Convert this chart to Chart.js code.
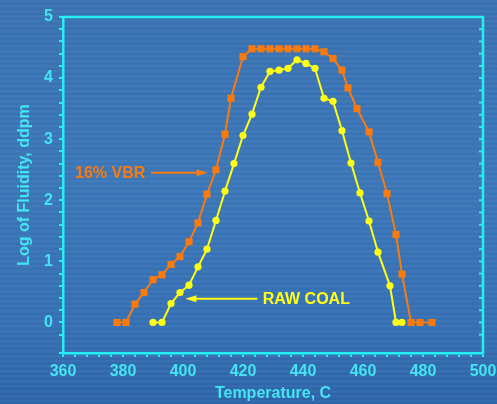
<!DOCTYPE html>
<html lang="en">
<head>
    <meta charset="UTF-8">
    <title>Log of Fluidity vs Temperature</title>
    <script src="https://cdn.jsdelivr.net/npm/chart.js"></script>
    <style>
        html, body {
            margin: 0;
            padding: 0;
        }
        body {
            width: 497px;
            height: 404px;
            overflow: hidden;
            background:
                repeating-linear-gradient(180deg, rgba(255,255,255,0.03) 0px, rgba(255,255,255,0.03) 2px, rgba(0,0,0,0.02) 3px, rgba(0,0,0,0.02) 5px),
                linear-gradient(180deg, #3a72b3 0%, #3b77ba 45%, #3671b5 80%, #2e66aa 100%);
        }
        canvas {
            display: block;
        }
    </style>
</head>
<body>
    <canvas id="fluidityChart" width="497" height="404"></canvas>

    <script>
        // 16% VBR (orange squares)
        const temps16 = [378, 381, 384, 387, 390, 393, 396, 399, 402, 405, 408, 411, 414, 416, 420,
                         423, 426, 429, 432, 435, 438, 441, 444, 447, 450, 453, 455, 458, 462, 465,
                         468, 471, 473, 476, 479, 483];
        const fluid16 = [0, 0, 0.30, 0.49, 0.70, 0.78, 0.95, 1.08, 1.32, 1.63, 2.10, 2.50, 3.08, 3.67, 4.35,
                         4.48, 4.48, 4.48, 4.48, 4.48, 4.48, 4.48, 4.48, 4.43, 4.32, 4.13, 3.84, 3.50, 3.12, 2.62,
                         2.11, 1.44, 0.79, 0, 0, 0];

        // raw coal (yellow circles)
        const tempsRaw = [390, 393, 396, 399, 402, 405, 408, 411, 414, 417, 420, 423, 426, 429, 432,
                          435, 438, 441, 444, 447, 450, 453, 456, 459, 462, 465, 469, 471, 473];
        const fluidRaw = [0, 0, 0.31, 0.49, 0.61, 0.91, 1.20, 1.67, 2.15, 2.60, 3.06, 3.41, 3.85, 4.11, 4.13,
                          4.16, 4.30, 4.24, 4.16, 3.67, 3.62, 3.14, 2.61, 2.12, 1.66, 1.15, 0.60, 0, 0];

        const xLabels = [360, 380, 400, 420, 440, 460, 480, 500];
        const yLabels = [0, 1, 2, 3, 4, 5];

        const cyan = '#25eef3';
        const cyanText = '#45e4f2';
        const orange = '#fb7a0c';
        const yellow = '#ffff14';
        const boldFont = { family: 'Liberation Sans, Arial, sans-serif', size: 16, weight: 'bold' };

        // callout labels with arrows, in data units
        const callouts = [
            { text: '16% VBR', color: orange, textX: 364, textY: 2.45, fromX: 389.3, toX: 408.2, y: 2.45, align: 'left' },
            { text: 'RAW COAL', color: yellow, textX: 426.6, textY: 0.39, fromX: 424.8, toX: 400.8, y: 0.39, align: 'left' }
        ];

        // top border, right border and inward ticks on the right
        const framePlugin = {
            id: 'frame',
            beforeDatasetsDraw(chart) {
                const { ctx, chartArea, scales } = chart;
                ctx.save();
                ctx.strokeStyle = cyan;
                ctx.lineWidth = 2.5;
                ctx.beginPath();
                ctx.moveTo(chartArea.left, chartArea.top);
                ctx.lineTo(chartArea.right, chartArea.top);
                ctx.lineTo(chartArea.right, chartArea.bottom);
                ctx.stroke();
                ctx.lineWidth = 2;
                scales.y.ticks.forEach(t => {
                    const py = scales.y.getPixelForValue(t.value);
                    ctx.beginPath();
                    ctx.moveTo(chartArea.right - 4, py);
                    ctx.lineTo(chartArea.right, py);
                    ctx.stroke();
                });
                ctx.restore();
            }
        };

        const calloutPlugin = {
            id: 'callouts',
            afterDatasetsDraw(chart) {
                const { ctx, scales } = chart;
                ctx.save();
                ctx.font = 'bold 16px "Liberation Sans", Arial, sans-serif';
                ctx.textBaseline = 'middle';
                callouts.forEach(c => {
                    ctx.fillStyle = c.color;
                    ctx.strokeStyle = c.color;
                    ctx.textAlign = c.align;
                    ctx.fillText(c.text, scales.x.getPixelForValue(c.textX), scales.y.getPixelForValue(c.textY) + 1);
                    const x1 = scales.x.getPixelForValue(c.fromX);
                    const x2 = scales.x.getPixelForValue(c.toX);
                    const py = scales.y.getPixelForValue(c.y);
                    const dir = Math.sign(x2 - x1);
                    ctx.lineWidth = 2;
                    ctx.beginPath();
                    ctx.moveTo(x1, py);
                    ctx.lineTo(x2 - dir * 8, py);
                    ctx.stroke();
                    ctx.beginPath();
                    ctx.moveTo(x2, py);
                    ctx.lineTo(x2 - dir * 11, py - 3.5);
                    ctx.lineTo(x2 - dir * 11, py + 3.5);
                    ctx.closePath();
                    ctx.fill();
                });
                ctx.restore();
            }
        };

        const isLabel = (list, v) => list.some(l => Math.abs(l - v) < 1e-6);

        new Chart(document.getElementById('fluidityChart'), {
            type: 'scatter',
            data: {
                datasets: [
                    {
                        label: 'RAW COAL',
                        data: tempsRaw.map((t, i) => ({ x: t, y: fluidRaw[i] })),
                        showLine: true,
                        borderColor: yellow,
                        backgroundColor: yellow,
                        borderWidth: 2,
                        pointStyle: 'circle',
                        pointRadius: 3.6,
                        pointBorderWidth: 0,
                        tension: 0
                    },
                    {
                        label: '16% VBR',
                        data: temps16.map((t, i) => ({ x: t, y: fluid16[i] })),
                        showLine: true,
                        borderColor: orange,
                        backgroundColor: orange,
                        borderWidth: 2,
                        pointStyle: 'rect',
                        pointRadius: 5,
                        pointBorderWidth: 0,
                        tension: 0
                    }
                ]
            },
            options: {
                responsive: false,
                animation: false,
                layout: { padding: { top: 17, right: 14, left: 0, bottom: 0 } },
                plugins: {
                    legend: { display: false },
                    tooltip: { enabled: false }
                },
                scales: {
                    x: {
                        type: 'linear',
                        min: 360,
                        max: 500,
                        afterFit: s => { s.height = 51; s.paddingLeft = 0; s.paddingRight = 0; },
                        border: { color: cyan, width: 2.5 },
                        grid: { drawOnChartArea: false, color: cyan, tickLength: 4, lineWidth: 2 },
                        ticks: {
                            stepSize: 4,
                            autoSkip: false,
                            maxRotation: 0,
                            padding: 5,
                            color: cyanText,
                            font: boldFont,
                            callback: v => isLabel(xLabels, v) ? String(v) : ''
                        },
                        title: {
                            display: true,
                            text: 'Temperature, C',
                            color: cyanText,
                            font: boldFont,
                            padding: { top: 0, bottom: 1 }
                        }
                    },
                    y: {
                        min: -0.5,
                        max: 5,
                        afterFit: s => { s.width = 63; s.paddingTop = 0; s.paddingBottom = 0; },
                        border: { color: cyan, width: 2.5 },
                        grid: { drawOnChartArea: false, color: cyan, tickLength: 4, lineWidth: 2 },
                        ticks: {
                            stepSize: 0.2,
                            autoSkip: false,
                            padding: 6,
                            color: cyanText,
                            font: boldFont,
                            callback: v => isLabel(yLabels, v) ? String(Math.round(v)) : ''
                        },
                        title: {
                            display: true,
                            text: 'Log of Fluidity, ddpm',
                            color: cyanText,
                            font: boldFont,
                            padding: { top: 15, bottom: 0 }
                        }
                    }
                }
            },
            plugins: [framePlugin, calloutPlugin]
        });
    </script>
</body>
</html>
